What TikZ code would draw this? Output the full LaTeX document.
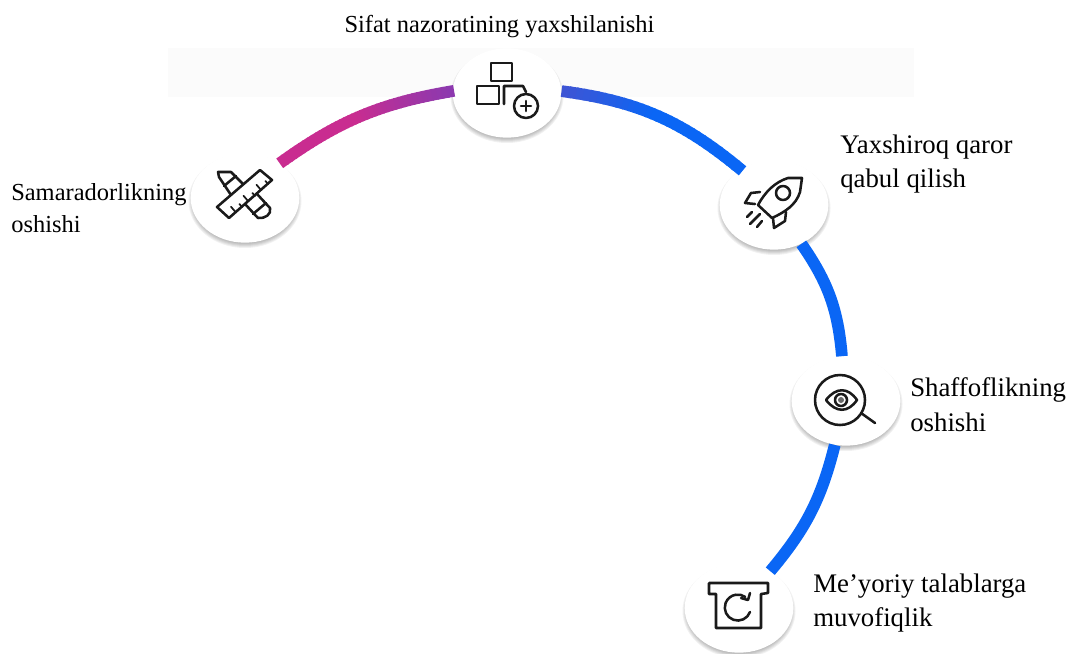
\documentclass[tikz,border=0pt]{standalone}
\usepackage{fontspec}
\setmainfont{Liberation Serif}
\usetikzlibrary{shapes.geometric}
\definecolor{arcblue}{HTML}{0A66F5}
\definecolor{arcindigo}{HTML}{3D55D5}
\definecolor{arcpurple}{HTML}{8A3AB0}
\definecolor{arcmagenta}{HTML}{C92C90}
\definecolor{bandgray}{HTML}{FBFBFB}
\definecolor{iconblack}{HTML}{1A1A1A}
\tikzset{
  disc/.style={ellipse, fill=white, minimum width=81.5pt, minimum height=67pt, inner sep=0pt},
  arcline/.style={line width=8.8pt, arcblue},
  icon/.style={line width=1.9pt, iconblack, line join=round, line cap=round},
  lbl/.style={anchor=west, align=left, inner sep=0pt, font=\fontsize{20.1}{26}\selectfont},
  lblsmall/.style={lbl, font=\fontsize{18.35}{24}\selectfont}
}
\begin{document}
\begin{tikzpicture}[x=0.75pt, y=-0.75pt]
\useasboundingbox (0,0) rectangle (1069,653);
\fill[bandgray] (168,48) rectangle (914,97);

% soft shadows under the discs
\foreach \cx/\cy in {245/198, 507/93, 774/205, 846/401, 739/608}{
  \foreach \g in {1,...,6}{
    \fill[black, opacity=.055] (\cx,\cy+3) ellipse ({57.5-\g} and {48-\g});
  }
}

\node[disc] (ruler) at (245,198) {};
\node[disc] (blocks) at (507,93) {};
\node[disc] (rocket) at (774,205) {};
\node[disc] (eye) at (846,401) {};
\node[disc] (box) at (739,608) {};

% connectors
\foreach \i in {0,...,39}{
  \pgfmathsetmacro{\s}{\i/40}
  \pgfmathsetmacro{\e}{(\i+1.3)/40}
  \pgfmathsetmacro{\m}{\s<.45 ? 100 : 100-(\s-.45)/.55*100}
  \path (ruler.45) to[bend left=13] coordinate[pos=\s] (pa) coordinate[pos=\e] (pb) (blocks.178);
  \draw[arcline, draw=arcmagenta!\m!arcpurple] (pa) -- (pb);
}
\foreach \i in {0,...,29}{
  \pgfmathsetmacro{\s}{\i/30}
  \pgfmathsetmacro{\e}{(\i+1.3)/30}
  \pgfmathsetmacro{\m}{\s<.45 ? 100-\s/.45*100 : 0}
  \path (blocks.2) to[bend left=16] coordinate[pos=\s] (pa) coordinate[pos=\e] (pb) (rocket.133);
  \draw[arcline, draw=arcindigo!\m!arcblue] (pa) -- (pb);
}
\draw[arcline] (rocket) to[bend left=15] (eye);
\draw[arcline] (eye) to[bend left=13] (box);

% ruler and pencil
\draw[icon] (217,207) -- (260,170) -- (272,180) -- (229,218) -- cycle;
\foreach \a/\b/\l in {235.5/212/7, 242/207/4, 248/201/7, 255/196/4, 261/190/7, 268/184/4}{
  \draw[icon, line width=1.3pt] (\a,\b) -- ++(-.65*\l,-.76*\l);
}
\draw[icon] (231,195) -- (219,177) -- (218,172) -- (231,172) -- (243,184);
\draw[icon] (224,186) -- (236,176);
\draw[icon] (245,204) -- (258,218) .. controls (265,219) and (272,214) .. (270,208) -- (257,194);
\draw[icon] (253,214) -- (266,203);

% blocks
\draw[icon] (491,63) rectangle (512,81);
\draw[icon] (477,86) rectangle (499,104);
\draw[icon] (504,104) -- (504,86) -- (523,86) -- (526,92);
\draw[icon] (526,106) circle (12);
\draw[icon] (521,106) -- (531,106);
\draw[icon] (526,101) -- (526,111);

% rocket
\draw[icon] (802,178) -- (788,178) .. controls (775,182) and (765,192) .. (758,205)
  -- (772,218) .. controls (785,212) and (796,205) .. (800,192) -- cycle;
\draw[icon] (783,193) circle (7);
\draw[icon] (760,192) -- (751,193) -- (745,203) -- (755,204);
\draw[icon] (786,212) -- (785,221) -- (774,228) -- (773,218);
\draw[icon] (747,217) -- (752,212);
\draw[icon] (750,224) -- (760,214);
\draw[icon] (757,227) -- (762,221);

% eye and lens
\draw[icon] (840,400) circle (25);
\draw[icon] (861,413) -- (875,423);
\draw[icon] (826,400) .. controls (836,387) and (848,387) .. (857,400) .. controls (848,413) and (836,413) .. (826,400) -- cycle;
\draw[icon] (841,400) circle (6);
\fill[iconblack!65] (841,400) circle (3);

% archive box
\draw[icon] (709,583) -- (768,583) -- (768,593) -- (761,594) -- (761,628) -- (716,628) -- (716,594) -- (709,594) -- cycle;
\draw[icon] (750,612) arc[start angle=20, end angle=305, radius=13];
\draw[icon] (750,593) -- (748,600) -- (741,598);

% labels
\node[lblsmall, anchor=center] (qualitylbl) at (499.5,27) {Sifat nazoratining yaxshilanishi};
\node[lblsmall] (effectlbl) at (11,208) {Samaradorlikning\\oshishi};
\node[lbl] (decisionlbl) at (840,164) {Yaxshiroq qaror\\qabul qilish};
\node[lbl] (transparentlbl) at (910,405) {Shaffoflikning\\oshishi};
\node[lbl] (normlbl) at (813,603) {Me’yoriy talablarga\\muvofiqlik};
\end{tikzpicture}
\end{document}
